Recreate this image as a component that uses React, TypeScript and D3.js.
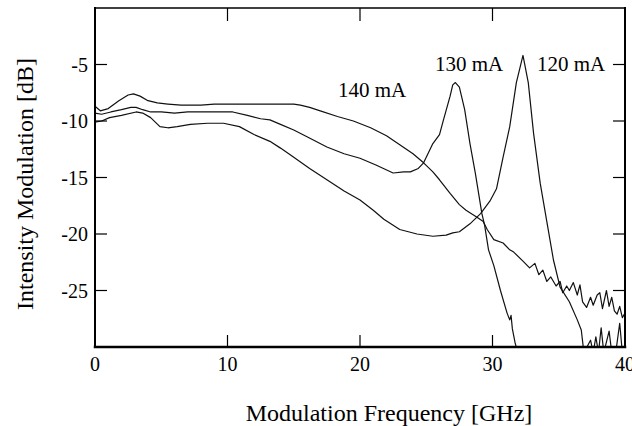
import React, { useEffect, useRef } from 'react';
import * as d3 from 'd3';

// 140 mA trace
const freq140 = [0, 0.4, 1.0, 1.8, 2.5, 2.9, 3.4, 4.0, 4.7, 5.5, 6.5, 7.2, 8.0, 9.0, 10.0, 11.0, 12.0, 13.0, 14.0, 15.0, 15.5, 16.2, 17.0, 18.3, 19.5, 20.8, 22.0, 23.0, 24.0, 24.8, 25.5, 26.0, 26.8, 27.5, 28.0, 28.8, 29.3, 29.6, 30.1, 30.8, 31.3, 31.6, 32.3, 32.8, 33.2, 33.5, 33.8, 34.1, 34.4, 34.8, 35.1, 35.3, 35.6, 35.8, 36.1, 36.4, 36.6, 36.8, 37.1, 37.4, 37.6, 37.9, 38.1, 38.3, 38.6, 38.8, 39.0, 39.2, 39.4, 39.6, 39.8, 40.0];
const db140 = [-8.7, -9.1, -8.9, -8.2, -7.7, -7.6, -7.8, -8.2, -8.4, -8.5, -8.6, -8.6, -8.6, -8.5, -8.5, -8.5, -8.5, -8.5, -8.5, -8.5, -8.6, -8.8, -9.1, -9.6, -10.0, -10.6, -11.3, -12.1, -12.9, -13.7, -14.5, -15.2, -16.4, -17.4, -17.9, -18.5, -18.9, -19.6, -20.5, -20.8, -21.4, -21.6, -22.4, -23.0, -22.6, -23.6, -23.2, -24.2, -23.8, -24.6, -24.2, -25.2, -24.6, -25.0, -24.3, -25.4, -24.5, -26.0, -26.5, -25.6, -26.3, -25.4, -25.2, -26.6, -25.0, -26.4, -25.6, -26.8, -27.1, -26.4, -27.4, -27.0];

// 130 mA trace
const freq130 = [0, 0.5, 1.2, 2.0, 2.7, 3.1, 3.6, 4.2, 5.0, 6.0, 7.0, 8.0, 9.0, 10.4, 11.5, 12.5, 13.2, 14.0, 15.0, 16.0, 17.5, 18.8, 20.0, 21.2, 22.5, 23.3, 23.8, 24.4, 24.8, 25.5, 26.0, 26.3, 26.8, 27.0, 27.2, 27.5, 27.9, 28.3, 28.7, 29.2, 29.4, 29.7, 30.1, 30.6, 31.1, 31.3, 31.4, 31.5, 31.7, 31.9];
const db130 = [-9.3, -9.4, -9.2, -9.0, -8.8, -8.8, -9.0, -9.2, -9.2, -9.3, -9.2, -9.2, -9.2, -9.2, -9.5, -9.8, -9.9, -10.3, -10.8, -11.4, -12.3, -12.9, -13.3, -13.9, -14.6, -14.5, -14.5, -14.2, -13.7, -12.0, -11.2, -9.9, -7.8, -6.8, -6.6, -7.0, -9.0, -12.0, -14.6, -18.2, -19.2, -21.4, -22.8, -25.0, -27.0, -27.6, -27.2, -28.4, -29.6, -30.5];

// 120 mA trace
const freq120 = [0, 0.5, 1.1, 2.0, 3.1, 3.6, 4.2, 4.9, 5.5, 6.2, 7.2, 8.5, 9.7, 10.9, 12.0, 13.2, 14.0, 15.0, 16.2, 17.5, 18.8, 20.0, 21.0, 21.8, 23.0, 24.3, 25.5, 26.5, 27.0, 27.5, 28.3, 29.1, 29.8, 30.3, 30.8, 31.3, 31.8, 32.3, 32.7, 33.1, 33.6, 34.1, 34.6, 35.1, 35.8, 36.4, 36.7, 36.9, 37.4, 37.6, 37.8, 38.0, 38.2, 38.4, 38.8, 39.0, 39.3, 39.6, 39.8, 40.0];
const db120 = [-10.1, -10.0, -9.7, -9.5, -9.2, -9.3, -9.7, -10.5, -10.6, -10.5, -10.3, -10.2, -10.2, -10.5, -11.2, -11.8, -12.4, -13.2, -14.2, -15.2, -16.2, -17.0, -17.9, -18.7, -19.6, -20.0, -20.2, -20.1, -19.9, -19.8, -19.1, -18.2, -17.1, -16.0, -13.2, -10.5, -6.6, -4.2, -6.6, -11.1, -15.5, -18.9, -22.3, -24.7, -26.0, -27.6, -28.5, -30.5, -29.4, -30.5, -29.1, -30.5, -28.3, -30.5, -28.6, -30.5, -30.5, -27.9, -30.5, -30.5];

const xTicks = [0, 10, 20, 30, 40];
const yTicks = [-5, -10, -15, -20, -25];
const seriesLabels = ['140 mA', '130 mA', '120 mA'];

const App = () => {
  const svgRef = useRef<SVGSVGElement | null>(null);

  useEffect(() => {
    if (!svgRef.current) return;
    const width = 632;
    const height = 426;
    const left = 95, right = 625, top = 8, bottom = 347;
    const font = '"Liberation Serif", "Times New Roman", serif';

    const svg = d3.select(svgRef.current);
    svg.selectAll('*').remove();
    svg.attr('width', width).attr('height', height);

    const x = d3.scaleLinear().domain([0, 40]).range([left, right]);
    const y = d3.scaleLinear().domain([-30, 0]).range([bottom, top]);

    svg.append('defs').append('clipPath').attr('id', 'plotclip')
      .append('rect')
      .attr('x', left).attr('y', top)
      .attr('width', right - left).attr('height', bottom - top);

    const line = d3.line<[number, number]>()
      .x(d => x(d[0]))
      .y(d => y(d[1]));

    const traces = [
      { f: freq140, v: db140 },
      { f: freq130, v: db130 },
      { f: freq120, v: db120 },
    ];

    const g = svg.append('g').attr('clip-path', 'url(#plotclip)');
    traces.forEach(t => {
      const pts = t.f.map((f, i) => [f, t.v[i]] as [number, number]);
      g.append('path')
        .attr('d', line(pts))
        .attr('fill', 'none')
        .attr('stroke', '#111')
        .attr('stroke-width', 1.2)
        .attr('stroke-linejoin', 'round');
    });

    // frame
    const frame = [
      { x1: left, y1: top, x2: right, y2: top, w: 1.5 },
      { x1: left, y1: bottom, x2: right, y2: bottom, w: 2.5 },
      { x1: left, y1: top, x2: left, y2: bottom, w: 2 },
      { x1: right, y1: top, x2: right, y2: bottom, w: 2 },
    ];
    frame.forEach(s => {
      svg.append('line')
        .attr('x1', s.x1).attr('y1', s.y1).attr('x2', s.x2).attr('y2', s.y2)
        .attr('stroke', '#000').attr('stroke-width', s.w)
        .attr('stroke-linecap', 'square');
    });

    // inward ticks
    xTicks.filter(t => t > 0 && t < 40).forEach(t => {
      svg.append('line')
        .attr('x1', x(t)).attr('x2', x(t)).attr('y1', top).attr('y2', top + 13)
        .attr('stroke', '#000').attr('stroke-width', 1.2);
      svg.append('line')
        .attr('x1', x(t)).attr('x2', x(t)).attr('y1', bottom).attr('y2', bottom - 12)
        .attr('stroke', '#000').attr('stroke-width', 1.2);
    });
    yTicks.forEach(t => {
      svg.append('line')
        .attr('x1', left).attr('x2', left + 12).attr('y1', y(t)).attr('y2', y(t))
        .attr('stroke', '#000').attr('stroke-width', 1.2);
      svg.append('line')
        .attr('x1', right).attr('x2', right - 12).attr('y1', y(t)).attr('y2', y(t))
        .attr('stroke', '#000').attr('stroke-width', 1.2);
    });

    // tick labels
    xTicks.forEach(t => {
      svg.append('text')
        .attr('x', x(t)).attr('y', 371)
        .attr('text-anchor', 'middle')
        .style('font-family', font).style('font-size', '20px')
        .text(t);
    });
    yTicks.forEach(t => {
      svg.append('text')
        .attr('x', 88).attr('y', y(t))
        .attr('dy', '0.35em')
        .attr('text-anchor', 'end')
        .style('font-family', font).style('font-size', '20px')
        .text(t);
    });

    // axis titles
    svg.append('text')
      .attr('x', 389).attr('y', 421)
      .attr('text-anchor', 'middle')
      .style('font-family', font).style('font-size', '24px')
      .text('Modulation Frequency [GHz]');
    svg.append('text')
      .attr('transform', 'translate(33,184) rotate(-90)')
      .attr('text-anchor', 'middle')
      .style('font-family', font).style('font-size', '24px')
      .text('Intensity Modulation [dB]');

    // curve labels
    const labelPos = [
      { x: 338, y: 97 },
      { x: 435, y: 71 },
      { x: 537, y: 71 },
    ];
    seriesLabels.forEach((s, i) => {
      svg.append('text')
        .attr('x', labelPos[i].x).attr('y', labelPos[i].y)
        .style('font-family', font).style('font-size', '21px')
        .text(s);
    });
  }, []);

  return (
    <div style={{ position: 'absolute', left: 0, top: 0, width: 632, height: 426, background: '#fff' }}>
      <svg ref={svgRef}></svg>
    </div>
  );
};

export default App;
